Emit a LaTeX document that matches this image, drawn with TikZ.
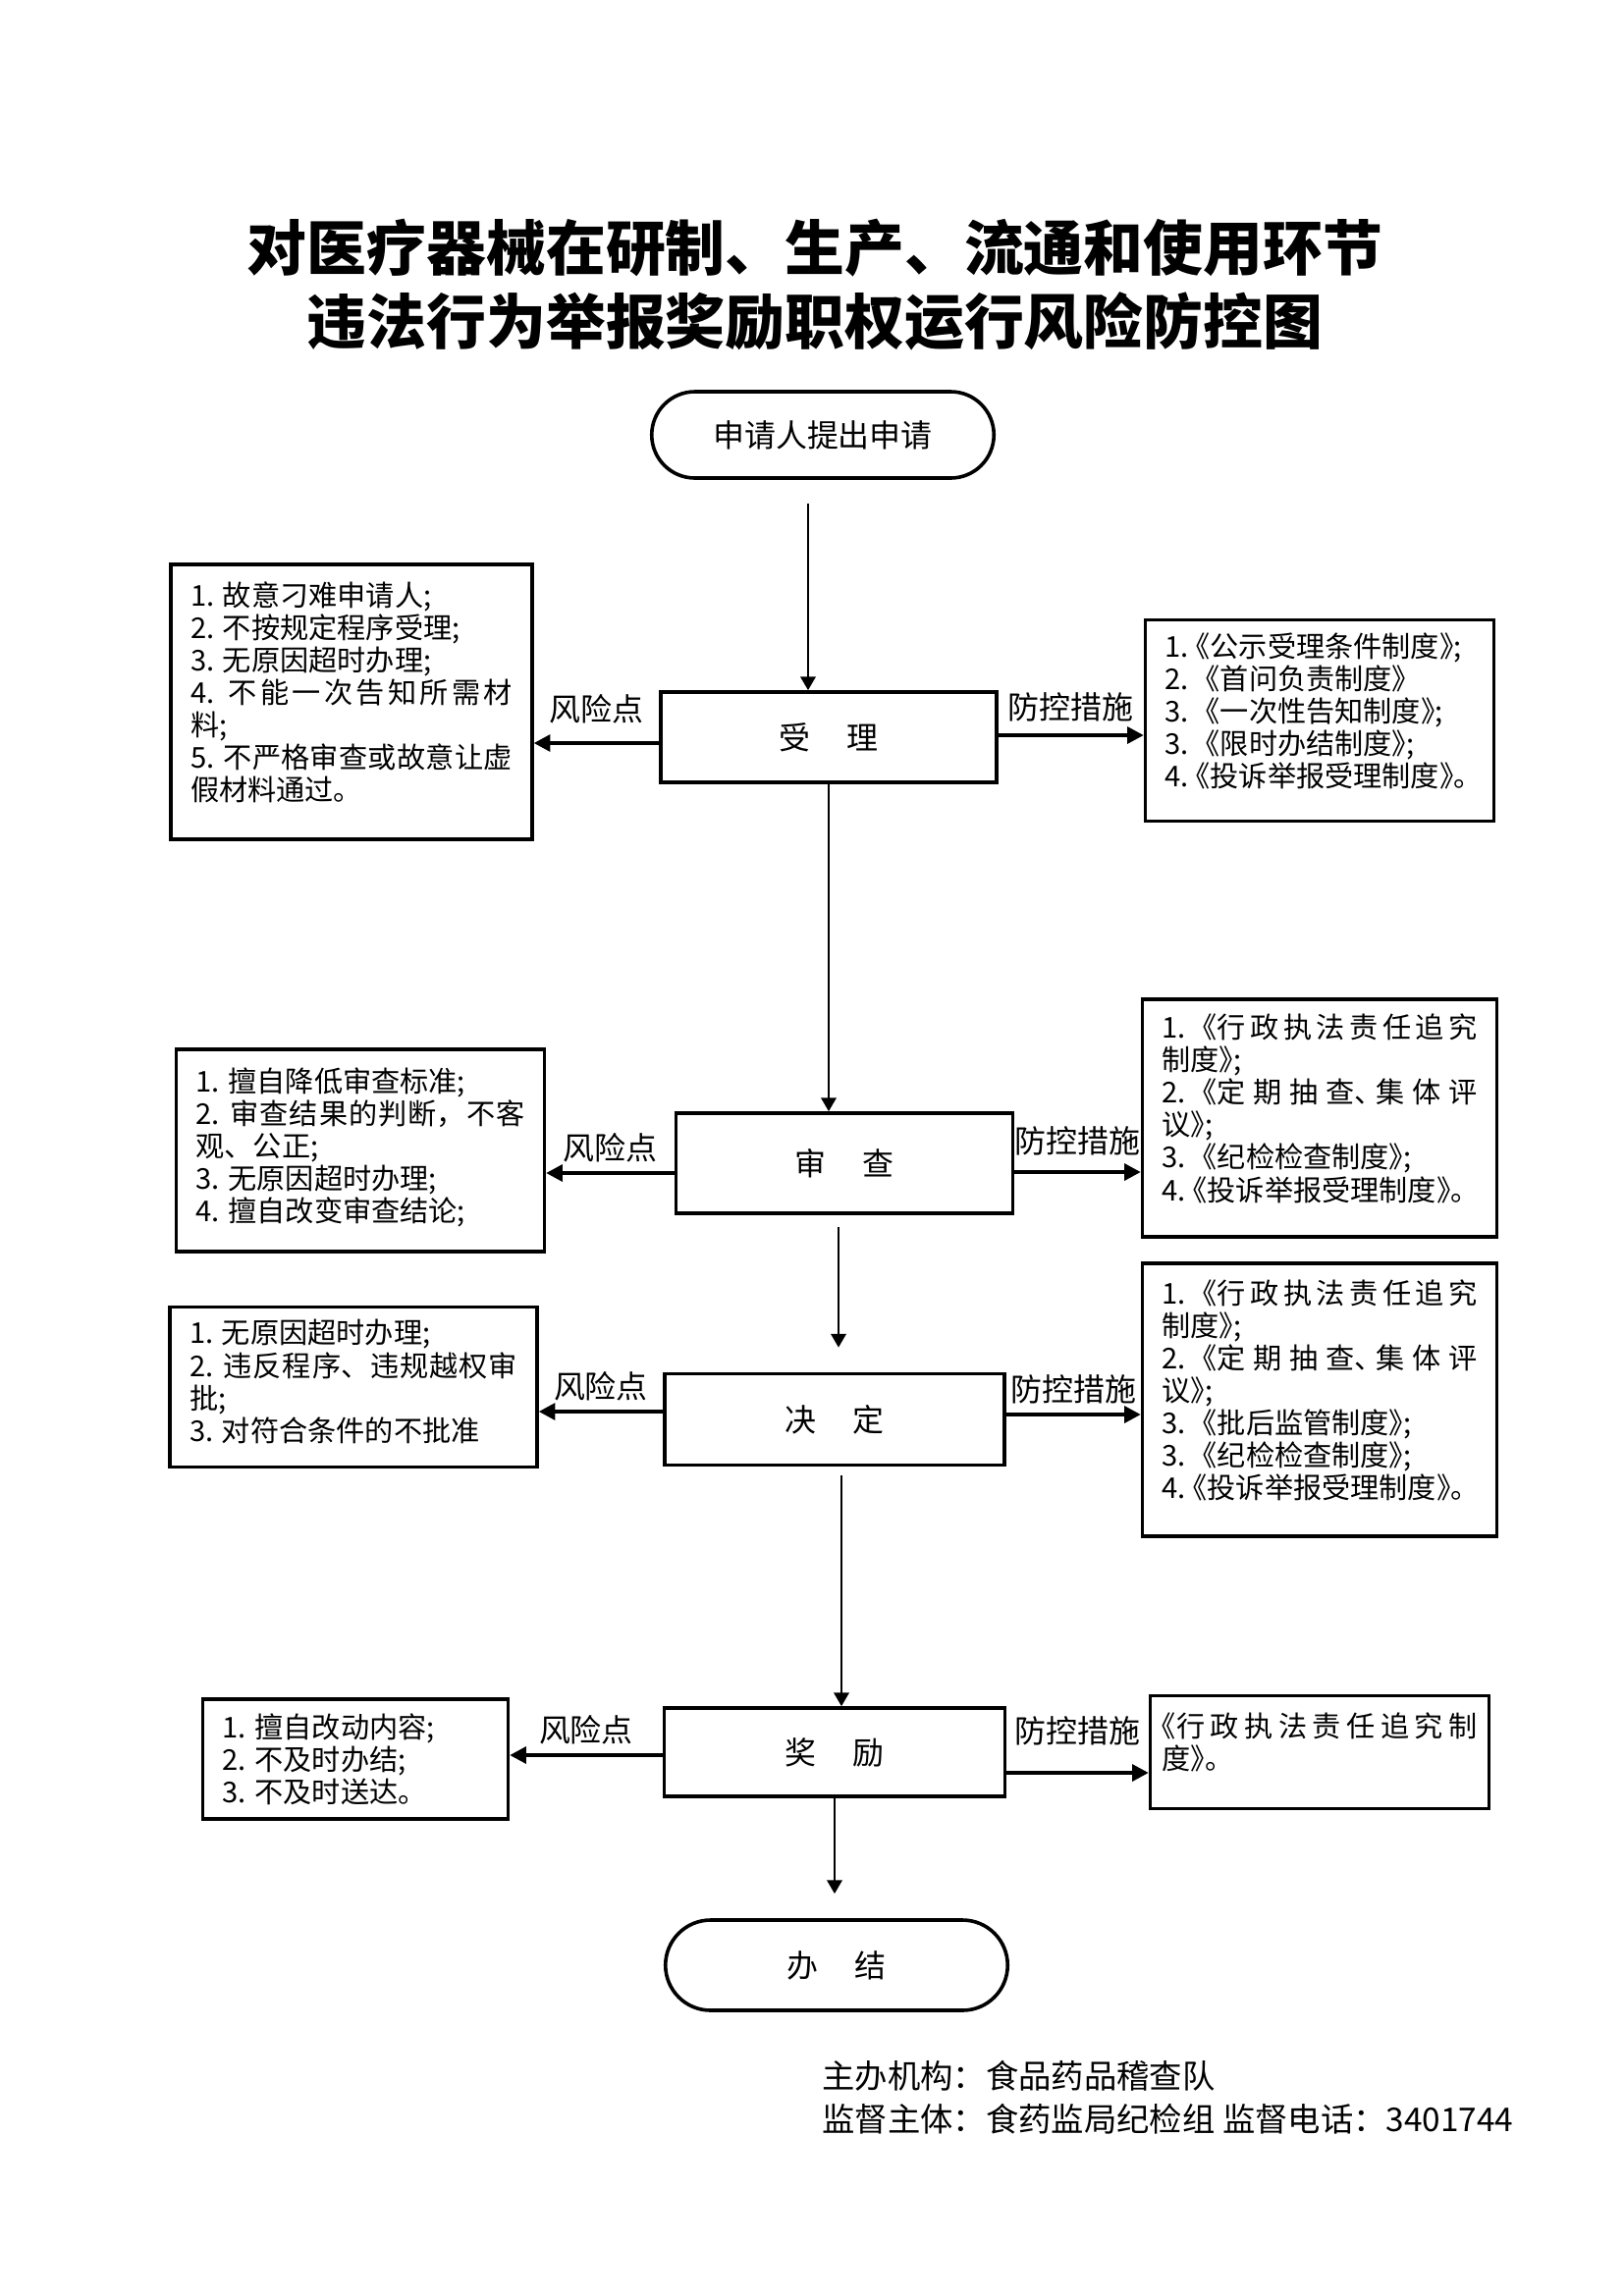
\documentclass[tikz,border=0pt]{standalone}
\usepackage{fontspec}
\setmainfont{Noto Sans CJK SC}
\newfontfamily\halffont{Noto Sans CJK SC}[RawFeature=+halt]
\usetikzlibrary{arrows.meta}
\usetikzlibrary{shapes.misc}
\XeTeXlinebreaklocale "zh"
\XeTeXlinebreakskip=0pt plus 2pt
\setlength{\parindent}{0pt}
\newlength{\unitpx}
\setlength{\unitpx}{0.3599pt}
\newcommand{\nogap}{\hspace{0.25em}}
\newcommand{\gap}{\hspace{0.6em}}

\tikzset{
  stepbox/.style={draw, line width=1.3pt, minimum width=345\unitpx, minimum height=92\unitpx, font=\fontsize{11.5pt}{14pt}\selectfont},
  capsule/.style={stepbox, rounded rectangle, minimum width=367\unitpx, minimum height=88\unitpx},
  notebox/.style={draw, line width=1.2pt, align=justify, inner xsep=20\unitpx, inner ysep=0pt, font=\fontsize{10.5pt}{11.9pt}\selectfont},
  measurebox/.style={notebox, font=\halffont\fontsize{10.5pt}{11.9pt}\selectfont},
  lift/.style={execute at end node={\par\vspace{#1}}},
  lift/.default=7pt,
  tag/.style={font=\fontsize{11.5pt}{14pt}\selectfont},
  credit/.style={font=\fontsize{12pt}{14pt}\selectfont, anchor=west, inner sep=0pt},
  flow/.style={-{Triangle[length=5pt,width=5.5pt]}, line width=1pt},
  side/.style={-{Triangle[length=6pt,width=6pt]}, line width=1.4pt},
}

\begin{document}
\begin{tikzpicture}[x=0.3599pt, y=-0.3599pt]
  \useasboundingbox (0,0) rectangle (1654,2339);
  \node[align=center, font=\fontsize{21.9pt}{27pt}\selectfont\bfseries] (title) at (830,290) {对医疗器械在研制、生产、流通和使用环节\\违法行为举报奖励职权运行风险防控图};

  % main line
  \node[capsule] (apply) at (838,443) {申请人提出申请};
  \node[stepbox, minimum width=342\unitpx] (accept) at (844,751) {受\hspace{1.15em}理};
  \node[stepbox, minimum width=343\unitpx, minimum height=102\unitpx] (review) at (860,1185) {审\hspace{1.15em}查};
  \node[stepbox, minimum width=346\unitpx, minimum height=93\unitpx] (decide) at (850,1446) {决\hspace{1.15em}定};
  \node[stepbox, minimum width=347\unitpx, minimum height=90\unitpx] (reward) at (850,1785) {奖\hspace{1.15em}励};
  \node[capsule, minimum height=92\unitpx] (done) at (852,2002) {办\hspace{1.15em}结};

  % risk points
  \node[notebox, lift, text width=328\unitpx, minimum height=280\unitpx] (risk1) at (358,715) {1. 故意刁难申请人;\\
    2. 不按规定程序受理;\\
    3. 无原因超时办理;\\
    4. 不能一次告知所需材\linebreak
    料;\\
    5. 不严格审查或故意让虚\linebreak
    假材料通过。};
  \node[notebox, lift=2pt, text width=335\unitpx, minimum height=206\unitpx] (risk2) at (367,1172) {1. 擅自降低审查标准;\\
    2. 审查结果的判断，不客\linebreak
    观、公正;\\
    3. 无原因超时办理;\\
    4. 擅自改变审查结论;};
  \node[notebox, lift=4pt, text width=334\unitpx, minimum height=163\unitpx] (risk3) at (360,1413) {1. 无原因超时办理;\\
    2. 违反程序、违规越权审\linebreak
    批;\\
    3. 对符合条件的不批准};
  \node[notebox, text width=271\unitpx, minimum height=122\unitpx] (risk4) at (362,1792) {1. 擅自改动内容;\\
    2. 不及时办结;\\
    3. 不及时送达。};

  % control measures
  \node[measurebox, lift, text width=315\unitpx, minimum height=205\unitpx] (guard1) at (1344,734) {1.\nogap《公示受理条件制度》;\\
    2.\gap《首问负责制度》\\
    3.\gap《一次性告知制度》;\\
    3.\gap《限时办结制度》;\\
    4.\nogap《投诉举报受理制度》。};
  \node[measurebox, lift, text width=321\unitpx, minimum height=242\unitpx] (guard2) at (1344,1139) {1.\gap《行政执法责任追究\linebreak
    制度》;\\
    2.\gap《定期抽查、集体评\linebreak
    议》;\\
    3.\gap《纪检检查制度》;\\
    4.\nogap《投诉举报受理制度》。};
  \node[measurebox, lift, text width=321\unitpx, minimum height=278\unitpx] (guard3) at (1344,1426) {1.\gap《行政执法责任追究\linebreak
    制度》;\\
    2.\gap《定期抽查、集体评\linebreak
    议》;\\
    3.\gap《批后监管制度》;\\
    3.\gap《纪检检查制度》;\\
    4.\nogap《投诉举报受理制度》。};
  \node[measurebox, lift, inner xsep=12\unitpx, text width=321\unitpx, minimum height=115\unitpx] (guard4) at (1344,1785) {《行政执法责任追究制\linebreak
    度》。};

  \draw[flow, shorten <=24\unitpx] ([xshift=-15\unitpx]apply.south) -- ([xshift=-15\unitpx]apply.south |- accept.north);
  \draw[flow] (accept.south) -- (accept.south |- review.north);
  \draw[flow, shorten <=12\unitpx, shorten >=25\unitpx] ([xshift=-6\unitpx]review.south) -- ([xshift=-6\unitpx]review.south |- decide.north);
  \draw[flow, shorten <=9\unitpx] ([xshift=7\unitpx]decide.south) -- ([xshift=7\unitpx]decide.south |- reward.north);
  \draw[flow, shorten >=25\unitpx] (reward.south) -- (reward.south |- done.north);

  \draw[side] ([yshift=-6\unitpx]accept.west) -- ([yshift=-6\unitpx]accept.west -| risk1.east) node[tag, midway, above=3pt] (riskA) {风险点};
  \draw[side] ([yshift=2\unitpx]accept.east) -- ([yshift=2\unitpx]accept.east -| guard1.west) node[tag, midway, above=1pt] (guardA) {防控措施};
  \draw[side] ([yshift=-10\unitpx]review.west) -- ([yshift=-10\unitpx]review.west -| risk2.east) node[tag, midway, above] (riskB) {风险点};
  \draw[side] ([yshift=-9\unitpx]review.east) -- ([yshift=-9\unitpx]review.east -| guard2.west) node[tag, midway, above=2pt] (guardB) {防控措施};
  \draw[side] ([yshift=8\unitpx]decide.west) -- ([yshift=8\unitpx]decide.west -| risk3.east) node[tag, midway, above] (riskC) {风险点};
  \draw[side] ([yshift=5\unitpx]decide.east) -- ([yshift=5\unitpx]decide.east -| guard3.west) node[tag, midway, above] (guardC) {防控措施};
  \draw[side] ([yshift=-3\unitpx]reward.west) -- ([yshift=-3\unitpx]reward.west -| risk4.east) node[tag, midway, above] (riskD) {风险点};
  \draw[side] ([yshift=-21\unitpx]reward.east) -- ([yshift=-21\unitpx]reward.east -| guard4.west) node[tag, midway, above=6pt] (guardD) {防控措施};

  \node[credit] (host) at (837,2115) {主办机构：食品药品稽查队};
  \node[credit] (watch) at (837,2159) {监督主体：食药监局纪检组\ 监督电话：3401744};
\end{tikzpicture}
\end{document}
